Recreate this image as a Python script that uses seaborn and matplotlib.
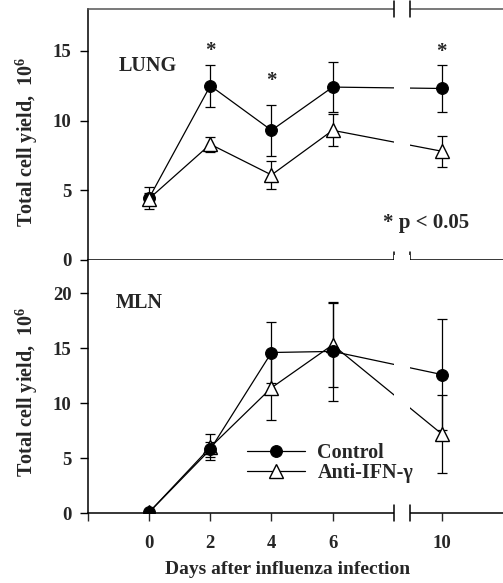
import numpy as np
import matplotlib
matplotlib.use("Agg")
import matplotlib.pyplot as plt
import seaborn as sns
from matplotlib.transforms import blended_transform_factory
from matplotlib.patches import Rectangle

# ---------------- data ----------------
days = [0, 2, 4, 6, 10]
day_ticks = [-2, 0, 2, 4, 6, 10]
day_labels = ["", "0", "2", "4", "6", "10"]

lung_control = [4.45, 12.5, 9.3, 12.4, 12.3]
lung_control_err = [0.8, 1.5, 1.85, 1.8, 1.7]
lung_anti = [4.4, 8.3, 6.1, 9.3, 7.8]
lung_anti_err = [0.4, 0.55, 1.0, 1.15, 1.1]

mln_control = [0.1, 5.8, 14.6, 14.7, 12.6]
mln_control_err = [0.0, 0.65, 2.8, 4.5, 5.0]
mln_anti = [0.1, 6.0, 11.4, 15.3, 7.2]
mln_anti_err = [0.0, 1.2, 2.9, 3.8, 3.5]

lung_yticks = [0, 5, 10, 15]
mln_yticks = [0, 5, 10, 15, 20]
lung_sig_days = [2, 4, 10]
lung_sig_y = [15.0, 12.85, 14.9]

# ---------------- style ----------------
sns.set_style("ticks")
plt.rcParams["font.family"] = ["Liberation Serif", "DejaVu Serif"]
plt.rcParams["font.weight"] = "bold"
plt.rcParams["axes.labelweight"] = "bold"
plt.rcParams["mathtext.fontset"] = "custom"
plt.rcParams["mathtext.rm"] = "Liberation Serif:bold"
plt.rcParams["mathtext.bf"] = "Liberation Serif:bold"
plt.rcParams["mathtext.it"] = "Liberation Serif:bold"
plt.rcParams["mathtext.default"] = "rm"

# broken x-axis scale (gap between day 8 and 8.95)
B_LO, B_HI, SHIFT = 8.0, 8.95, 0.43
G_HI = B_HI - SHIFT


def fwd(x):
    x = np.asarray(x, dtype=float)
    return np.where(x <= B_LO, x,
                    np.where(x >= B_HI, x - SHIFT,
                             B_LO + (x - B_LO) * (G_HI - B_LO) / (B_HI - B_LO)))


def inv(y):
    y = np.asarray(y, dtype=float)
    return np.where(y <= B_LO, y,
                    np.where(y >= G_HI, y + SHIFT,
                             B_LO + (y - B_LO) * (B_HI - B_LO) / (G_HI - B_LO)))


W, H = 503, 583
fig = plt.figure(figsize=(W / 100, H / 100), dpi=100)
ax1 = fig.add_axes([88 / W, 1 - 260 / H, 1 - 88 / W, 251 / H])
ax2 = fig.add_axes([88 / W, 1 - 513.3 / H, 1 - 88 / W, 253.3 / H])

FS = 14.5
TFS = 13.5
panels = [
    (ax1, lung_control, lung_control_err, lung_anti, lung_anti_err, 18, lung_yticks, False),
    (ax2, mln_control, mln_control_err, mln_anti, mln_anti_err, 23, mln_yticks, True),
]

for ax, ctrl, ctrl_e, anti, anti_e, ytop, yt, ctrl_on_top in panels:
    ax.set_xscale("function", functions=(fwd, inv))
    zc, za = (5, 4) if ctrl_on_top else (4, 5)
    ax.errorbar(days, ctrl, yerr=ctrl_e, fmt="none", ecolor="k",
                elinewidth=0.9, capsize=3.6, capthick=0.9, zorder=3)
    ax.errorbar(days, anti, yerr=anti_e, fmt="none", ecolor="k",
                elinewidth=0.9, capsize=3.6, capthick=0.9, zorder=3)
    sns.lineplot(x=days, y=ctrl, ax=ax, color="k", lw=0.9, marker="o",
                 markersize=8.5, markerfacecolor="k", markeredgecolor="k",
                 label="Control", zorder=zc)
    sns.lineplot(x=days, y=anti, ax=ax, color="k", lw=0.9, marker="^",
                 markersize=9.5, markerfacecolor="white", markeredgecolor="k",
                 markeredgewidth=1.0, label="Anti-IFN-\u03b3", zorder=za)
    ax.set_xlim(-2, 12)
    ax.set_ylim(0, ytop)
    ax.set_yticks(yt)
    ax.set_yticklabels([str(v) for v in yt], fontsize=TFS)
    ax.tick_params(axis="y", direction="out", length=5.8, width=1, pad=6,
                   color="k")
    ax.spines["right"].set_visible(False)
    for s in ax.spines.values():
        s.set_linewidth(1.1)
        s.set_color("k")
    if ax.get_legend() is not None:
        ax.get_legend().remove()

    # white gap for the axis break
    blend = blended_transform_factory(ax.transData, ax.transAxes)
    ax.add_patch(Rectangle((B_LO, -0.02), B_HI - B_LO, 1.04, transform=blend,
                           facecolor="white", edgecolor="none", zorder=8,
                           clip_on=False))

ax1.spines["top"].set_color("#555555")
ax2.spines["top"].set_visible(False)

# break marks
def break_marks(ax, yfrac, dpx=8):
    blend = blended_transform_factory(ax.transData, ax.transAxes)
    h = ax.get_position().height * H
    d = dpx / h
    for xb in (B_LO, B_HI):
        ax.plot([xb, xb], [yfrac - d, yfrac + d], transform=blend, color="k",
                lw=1.1, clip_on=False, zorder=9)

break_marks(ax1, 1.0)
break_marks(ax1, 0.0)
break_marks(ax2, 0.0)

# x ticks
ax1.set_xticks(day_ticks)
ax1.tick_params(axis="x", bottom=False, labelbottom=False)
ax2.set_xticks(day_ticks)
ax2.set_xticklabels(day_labels, fontsize=TFS)
ax2.tick_params(axis="x", direction="out", length=5.8, width=1, pad=10)
ax1.minorticks_off()
ax2.minorticks_off()

# labels
ax1.set_ylabel("Total cell yield,  10$^{6}$", fontsize=14.5)
ax2.set_ylabel("Total cell yield,  10$^{6}$", fontsize=14.5)
ax1.yaxis.set_label_coords(-0.115, 0.47)
ax2.yaxis.set_label_coords(-0.115, 0.48)
ax2.set_xlabel("Days after influenza infection", fontsize=14)
ax2.xaxis.set_label_coords(0.48, -0.19)

ax1.text(-1.0, 13.9, "LUNG", fontsize=FS, ha="left", va="center", zorder=10)
ax2.text(-1.08, 19.1, "MLN", fontsize=FS, ha="left", va="center", zorder=10)
ax1.text(7.64, 2.66, "* p < 0.05", fontsize=15, ha="left", va="center",
         zorder=10)
for d, yv in zip(lung_sig_days, lung_sig_y):
    ax1.text(d, yv, "*", fontsize=15, ha="center", va="center", zorder=10)

h, l = ax2.get_legend_handles_labels()
leg = ax2.legend(h[:2], l[:2], loc="center left", bbox_to_anchor=(0.383, 0.2),
                 frameon=False, fontsize=FS, handlelength=2.9,
                 handletextpad=0.6, labelspacing=0.0, borderpad=0,
                 borderaxespad=0)
leg.set_zorder(10)

fig.savefig("out.png", dpi=100)
